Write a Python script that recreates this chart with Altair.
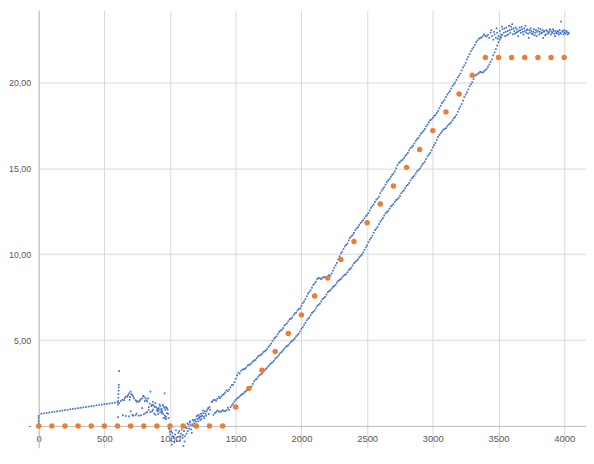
import altair as alt
import pandas as pd

# ---------------- data ----------------
# blue series, segment 1: initial straight stretch (0 -> 600)
ramp_x = [0, 0, 0, 0, 0, 20, 40, 60, 80, 100, 120, 140, 160, 180, 200, 220, 240, 260, 280,
          300, 320, 340, 360, 380, 400, 420, 440, 460, 480, 500, 520, 540, 560, 580, 600]
ramp_y = [0.00, 0.15, 0.30, 0.45, 0.58, 0.71, 0.74, 0.76, 0.78, 0.81, 0.83, 0.85, 0.87, 0.90,
          0.92, 0.94, 0.97, 0.99, 1.01, 1.04, 1.06, 1.08, 1.10, 1.13, 1.15, 1.17, 1.20, 1.22,
          1.24, 1.27, 1.29, 1.31, 1.33, 1.36, 1.38]

# segment 2: spike and scattered cloud (600 -> 1000)
cloud_x = [603, 605, 606, 607, 608, 609, 610, 612, 604, 612,
           625, 637, 650, 663, 675, 688, 692, 700, 705, 713, 725, 738, 750, 763, 775, 788,
           801, 813, 820, 826, 838, 845, 851, 863, 870, 876, 889, 895, 903, 914, 925, 939,
           945, 951, 959, 964, 970, 976, 982, 989,
           640, 663, 688, 700, 713, 738, 763, 788, 800, 813, 838, 850, 863, 880, 889, 900,
           914, 925, 939, 951, 960, 970, 864, 939, 964, 976,
           655, 680, 695, 720, 745, 770, 795, 808, 833, 858, 882, 908, 920, 933, 948, 957,
           968, 985, 720, 745, 780, 825, 870, 910, 935]
cloud_y = [1.25, 1.45, 1.65, 1.85, 2.05, 2.25, 2.40, 3.19, 0.52, 1.33,
           1.45, 1.52, 1.50, 1.71, 1.70, 1.90, 1.52, 2.00, 1.85, 1.80, 1.61, 1.50, 1.45, 1.42,
           1.55, 1.60, 1.71, 1.61, 1.50, 1.42, 1.10, 1.30, 2.00, 1.23, 1.40, 1.20, 1.33, 1.10,
           1.00, 1.04, 1.15, 0.85, 1.23, 1.13, 1.90, 0.94, 1.10, 0.75, 0.95, 0.46,
           0.62, 0.58, 0.56, 0.85, 0.65, 0.62, 0.60, 1.04, 0.68, 0.75, 0.94, 0.80, 0.85, 0.72,
           0.65, 0.90, 0.94, 0.80, 0.75, 0.46, 0.60, 0.40, 1.23, 0.85, 0.46, 1.04,
           1.62, 1.80, 1.68, 1.72, 1.40, 1.48, 1.75, 1.45, 1.60, 1.15, 1.10, 0.85, 1.25, 0.95,
           0.70, 1.05, 0.55, 0.70, 0.60, 0.72, 0.62, 0.80, 0.95, 0.70, 1.00]

# segment 3: dip below zero (1000 -> 1320)
dip_x = [989, 995, 1002, 1008, 1014, 1020, 1027, 1039, 1052, 1064, 1070, 1080, 1089, 1095,
         1102, 1110, 1114, 1120, 1127, 1135, 1140, 1150, 1152, 1160, 1165, 1170, 1177, 1180,
         1190, 1195, 1202, 1210, 1215, 1220, 1225, 1230, 1235, 1240, 1245, 1253, 1260, 1265,
         1275, 1278, 1290, 1295, 1305, 1316,
         998, 1005, 1017, 1033, 1045, 1058, 1075, 1085, 1098, 1106, 1125, 1132, 1145, 1157,
         1172, 1185, 1198, 1207, 1218, 1228, 1238, 1250, 1258, 1270, 1285, 1300]
dip_y = [-0.12, -0.20, -0.50, -0.30, -1.08, -0.60, -0.70, -0.50, -0.88, -0.40, -0.30, -0.60,
         -0.21, -0.70, -1.17, -0.90, -0.60, -0.10, -0.12, -0.30, 0.08, 0.20, 0.27, -0.20,
         -0.40, 0.10, 0.00, 0.30, 0.37, 0.00, 0.56, 0.60, 0.27, 0.45, 0.50, 0.35, 0.70, 0.56,
         0.60, 0.75, 0.45, 0.85, 0.60, 0.85, 1.04, 0.70, 0.95, 1.42,
         -0.35, -0.85, -0.40, -0.95, -0.25, -0.65, -0.85, -0.45, -0.55, -0.30, -0.45, 0.15,
         -0.15, 0.05, 0.35, 0.15, 0.25, 0.40, 0.65, 0.55, 0.40, 0.90, 0.55, 0.70, 0.95, 1.10]

# segment 4: upper (left) branch
up_x = [1320, 1340, 1360, 1380, 1400, 1420, 1440, 1460, 1480, 1500, 1520, 1540, 1560, 1580,
        1600, 1620, 1640, 1660, 1680, 1700, 1720, 1740, 1760, 1780, 1800, 1820, 1840, 1860,
        1880, 1900, 1920, 1940, 1960, 1980, 2000, 2020, 2040, 2060, 2080, 2100, 2120, 2140,
        2160, 2180, 2200, 2220, 2240, 2260, 2280, 2300, 2320, 2340, 2360, 2380, 2400, 2420,
        2440, 2460, 2480, 2500, 2520, 2540, 2560, 2580, 2600, 2620, 2640, 2660, 2680, 2700,
        2720, 2740, 2760, 2780, 2800, 2820, 2840, 2860, 2880, 2900, 2920, 2940, 2960, 2980,
        3000, 3020, 3040, 3060, 3080, 3100, 3120, 3140, 3160, 3180, 3200, 3220, 3240, 3260,
        3280, 3300, 3320, 3340, 3360, 3380, 3400, 3420]
up_y = [1.40, 1.52, 1.58, 1.62, 1.80, 1.95, 2.02, 2.25, 2.40, 2.75, 3.10, 3.20, 3.30, 3.40,
        3.55, 3.65, 3.80, 3.95, 4.10, 4.20, 4.35, 4.50, 4.70, 4.95, 5.15, 5.35, 5.55, 5.70,
        5.90, 6.10, 6.25, 6.45, 6.60, 6.80, 7.00, 7.25, 7.55, 7.80, 8.05, 8.30, 8.55, 8.60,
        8.62, 8.65, 8.70, 8.75, 9.05, 9.35, 9.70, 10.05, 10.30, 10.55, 10.80, 11.05, 11.25,
        11.50, 11.70, 11.90, 12.10, 12.30, 12.55, 12.80, 13.05, 13.25, 13.55, 13.80, 14.05,
        14.30, 14.50, 14.70, 15.00, 15.30, 15.45, 15.60, 15.80, 16.05, 16.25, 16.45, 16.70,
        16.90, 17.10, 17.30, 17.55, 17.80, 17.95, 18.10, 18.35, 18.65, 18.90, 19.15, 19.40,
        19.65, 19.90, 20.15, 20.40, 20.70, 21.00, 21.35, 21.65, 21.95, 22.20, 22.45, 22.60,
        22.70, 22.72, 22.78]
up2_x = [1330, 1350, 1370, 1390, 1410, 1430, 1450, 1470, 1490, 1510, 1530, 1550, 1570, 1590,
         1610, 1630, 1650, 1670, 1690, 1710, 1730, 1750, 1770, 1790, 1810, 1830, 1850, 1870,
         1890, 1910, 1930, 1950, 1970, 1990, 2010, 2030, 2050, 2070, 2090, 2110, 2130, 2150,
         2170, 2190, 2210, 2230, 2250, 2270, 2290, 2310, 2330, 2350, 2370, 2390, 2410, 2430,
         2450, 2470, 2490, 2510, 2530, 2550, 2570, 2590, 2610, 2630, 2650, 2670, 2690, 2710,
         2730, 2750, 2770, 2790, 2810, 2830, 2850, 2870, 2890, 2910, 2930, 2950, 2970, 2990,
         3010, 3030, 3050, 3070, 3090, 3110, 3130, 3150, 3170, 3190, 3210, 3230, 3250, 3270,
         3290, 3310, 3330, 3350, 3370, 3390, 3410]
up2_y = [1.50, 1.48, 1.70, 1.72, 1.85, 2.08, 2.12, 2.38, 2.55, 2.95, 3.05, 3.28, 3.32, 3.52,
         3.58, 3.75, 3.85, 4.05, 4.12, 4.30, 4.40, 4.62, 4.80, 5.08, 5.22, 5.48, 5.60, 5.85,
         5.98, 6.22, 6.32, 6.55, 6.72, 6.85, 7.15, 7.38, 7.70, 7.90, 8.22, 8.40, 8.62, 8.55,
         8.68, 8.62, 8.78, 8.88, 9.22, 9.50, 9.88, 10.15, 10.45, 10.62, 10.95, 11.12, 11.40,
         11.58, 11.82, 11.98, 12.22, 12.40, 12.70, 12.90, 13.18, 13.35, 13.70, 13.90, 14.20,
         14.38, 14.62, 14.82, 15.18, 15.38, 15.50, 15.72, 15.90, 16.18, 16.32, 16.60, 16.78,
         17.02, 17.18, 17.45, 17.68, 17.85, 18.05, 18.22, 18.50, 18.80, 19.00, 19.30, 19.50,
         19.80, 20.00, 20.30, 20.52, 20.88, 21.15, 21.50, 21.82, 22.05, 22.35, 22.55, 22.62,
         22.80, 22.68]

# segment 5: lower (right) branch
low_x = [1330, 1350, 1370, 1390, 1410, 1430, 1450, 1470, 1490, 1510, 1530, 1550, 1570, 1590,
         1610, 1630, 1650, 1670, 1690, 1710, 1730, 1750, 1770, 1790, 1810, 1830, 1850, 1870,
         1890, 1910, 1930, 1950, 1970, 1990, 2010, 2030, 2050, 2070, 2090, 2110, 2130, 2150,
         2170, 2190, 2210, 2230, 2250, 2270, 2290, 2310, 2330, 2350, 2370, 2390, 2410, 2430,
         2450, 2470, 2490, 2510, 2530, 2550, 2570, 2590, 2610, 2630, 2650, 2670, 2690, 2710,
         2730, 2750, 2770, 2790, 2810, 2830, 2850, 2870, 2890, 2910, 2930, 2950, 2970, 2990,
         3010, 3030, 3050, 3070, 3090, 3110, 3130, 3150, 3170, 3190, 3210, 3230, 3250, 3270,
         3290, 3310, 3330, 3350, 3370, 3390, 3410, 3430, 3450, 3470, 3490, 3510, 3530]
low_y = [0.65, 0.80, 0.85, 0.85, 0.88, 0.92, 0.94, 1.20, 1.42, 1.60, 1.72, 1.85, 1.98, 2.08,
         2.18, 2.45, 2.70, 2.85, 3.00, 3.15, 3.32, 3.50, 3.65, 3.80, 3.98, 4.15, 4.32, 4.50,
         4.65, 4.80, 4.95, 5.10, 5.30, 5.50, 5.75, 6.00, 6.25, 6.45, 6.65, 6.85, 7.05, 7.25,
         7.45, 7.65, 7.85, 8.00, 8.15, 8.35, 8.50, 8.65, 8.80, 8.95, 9.15, 9.35, 9.55, 9.70,
         9.90, 10.10, 10.40, 10.70, 10.95, 11.25, 11.50, 11.75, 12.00, 12.25, 12.45, 12.65,
         12.85, 13.05, 13.20, 13.40, 13.65, 13.85, 14.05, 14.30, 14.50, 14.70, 14.90, 15.10,
         15.30, 15.55, 15.80, 16.05, 16.35, 16.65, 16.95, 17.15, 17.30, 17.45, 17.60, 17.80,
         18.00, 18.30, 18.60, 18.95, 19.30, 19.60, 19.90, 20.20, 20.45, 20.55, 20.60, 20.65,
         20.80, 21.05, 21.35, 21.75, 22.15, 22.50, 22.75]
low2_x = [1340, 1360, 1380, 1400, 1420, 1440, 1460, 1480, 1500, 1520, 1540, 1560, 1580, 1600,
          1620, 1640, 1660, 1680, 1700, 1720, 1740, 1760, 1780, 1800, 1820, 1840, 1860, 1880,
          1900, 1920, 1940, 1960, 1980, 2000, 2020, 2040, 2060, 2080, 2100, 2120, 2140, 2160,
          2180, 2200, 2220, 2240, 2260, 2280, 2300, 2320, 2340, 2360, 2380, 2400, 2420, 2440,
          2460, 2480, 2500, 2520, 2540, 2560, 2580, 2600, 2620, 2640, 2660, 2680, 2700, 2720,
          2740, 2760, 2780, 2800, 2820, 2840, 2860, 2880, 2900, 2920, 2940, 2960, 2980, 3000,
          3020, 3040, 3060, 3080, 3100, 3120, 3140, 3160, 3180, 3200, 3220, 3240, 3260, 3280,
          3300, 3320, 3340, 3360, 3380, 3400, 3420, 3440, 3460, 3480, 3500, 3520]
low2_y = [0.75, 0.90, 0.82, 0.92, 0.86, 1.05, 1.10, 1.30, 1.52, 1.65, 1.80, 1.90, 2.05, 2.12,
          2.30, 2.60, 2.75, 2.95, 3.05, 3.25, 3.40, 3.58, 3.70, 3.92, 4.05, 4.25, 4.40, 4.60,
          4.70, 4.90, 5.02, 5.22, 5.38, 5.65, 5.88, 6.15, 6.32, 6.58, 6.72, 6.98, 7.12, 7.38,
          7.52, 7.78, 7.90, 8.10, 8.22, 8.45, 8.55, 8.75, 8.85, 9.08, 9.22, 9.48, 9.62, 9.82,
          9.98, 10.25, 10.52, 10.85, 11.08, 11.40, 11.60, 11.90, 12.10, 12.38, 12.52, 12.78,
          12.92, 13.15, 13.28, 13.55, 13.72, 13.98, 14.15, 14.42, 14.58, 14.82, 14.98, 15.22,
          15.40, 15.70, 15.90, 16.22, 16.48, 16.82, 17.05, 17.25, 17.35, 17.55, 17.68, 17.92,
          18.12, 18.48, 18.75, 19.15, 19.42, 19.78, 20.02, 20.38, 20.48, 20.62, 20.58, 20.72,
          20.92, 21.20, 21.58, 21.95, 22.35, 22.62]

# segment 6: plateau
top_x = [3430, 3440, 3450, 3460, 3470, 3480, 3490, 3500, 3510, 3520, 3530, 3540, 3550, 3560,
         3570, 3575, 3580, 3590, 3600, 3605, 3610, 3620, 3630, 3635, 3640, 3650, 3655, 3660,
         3670, 3680, 3690, 3700, 3705, 3710, 3720, 3730, 3740, 3750, 3760, 3770, 3780, 3790,
         3800, 3810, 3820, 3830, 3840, 3850, 3860, 3870, 3880, 3890, 3900, 3910, 3920, 3930,
         3940, 3950, 3960, 3970, 3977, 3985, 3995, 4005, 4015, 4025, 4035,
         3445, 3465, 3485, 3495, 3515, 3525, 3545, 3555, 3565, 3585, 3595, 3615, 3625, 3645,
         3665, 3675, 3685, 3695, 3715, 3725, 3735, 3745, 3755, 3765, 3775, 3785, 3795, 3805,
         3815, 3825, 3835, 3845, 3855, 3865, 3875, 3885, 3895, 3905, 3915, 3925, 3935, 3945,
         3955, 3965, 3975, 3990, 4000, 4010, 4020, 4030]
top_y = [22.60, 22.90, 22.70, 22.50, 22.80, 22.60, 22.90, 22.70, 23.00, 22.80, 23.10, 22.90,
         22.70, 23.20, 23.00, 22.80, 23.30, 22.90, 23.10, 23.40, 22.80, 23.00, 23.20, 22.90,
         23.10, 22.70, 23.00, 23.20, 22.90, 23.10, 22.80, 23.00, 23.30, 22.90, 23.10, 22.60,
         22.90, 23.00, 22.80, 23.10, 22.90, 22.70, 23.00, 22.80, 23.10, 22.90, 22.60, 23.00,
         22.80, 23.00, 22.90, 23.10, 22.80, 22.90, 23.00, 22.70, 22.90, 23.00, 22.80, 22.90,
         23.55, 23.00, 22.80, 22.90, 23.00, 22.80, 22.85,
         23.05, 22.95, 23.15, 22.55, 22.65, 23.25, 23.15, 22.95, 22.75, 23.05, 23.25, 23.15,
         22.85, 22.95, 23.05, 23.25, 22.95, 23.15, 23.05, 22.85, 23.05, 23.15, 22.85, 22.95,
         22.75, 23.05, 22.95, 23.15, 22.95, 22.85, 23.05, 22.95, 22.75, 23.05, 22.85, 22.95,
         23.05, 22.95, 23.10, 22.85, 23.00, 22.85, 22.95, 23.05, 22.85, 22.95, 23.05, 22.85,
         22.95, 22.90]

# orange series
orange_x = [0, 100, 200, 300, 400, 500, 600, 700, 800, 900, 1000, 1100, 1200, 1300, 1400,
            1500, 1600, 1700, 1800, 1900, 2000, 2100, 2200, 2300, 2400, 2500, 2600, 2700,
            2800, 2900, 3000, 3100, 3200, 3300, 3400, 3500, 3600, 3700, 3800, 3900, 4000]
orange_y = [0, 0, 0, 0, 0, 0, 0, 0, 0, 0, 0, 0, 0, 0, 0,
            1.10, 2.19, 3.25, 4.34, 5.38, 6.47, 7.57, 8.61, 9.70, 10.74, 11.83, 12.93, 13.97,
            15.06, 16.10, 17.20, 18.29, 19.33, 20.42, 21.46, 21.46, 21.46, 21.46, 21.46,
            21.46, 21.46]

x_ticks = [0, 500, 1000, 1500, 2000, 2500, 3000, 3500, 4000]
y_ticks = [0, 5, 10, 15, 20]

# ---------------- chart ----------------
blue = pd.DataFrame({
    "x": ramp_x + cloud_x + dip_x + up_x + up2_x + low_x + low2_x + top_x,
    "y": ramp_y + cloud_y + dip_y + up_y + up2_y + low_y + low2_y + top_y,
})
orange = pd.DataFrame({"x": orange_x, "y": orange_y})

FONT = "Liberation Sans"
xscale = alt.Scale(domain=[0, 4166], nice=False, zero=False)
yscale = alt.Scale(domain=[-1.268, 24.207], nice=False, zero=False)

xaxis = alt.Axis(values=x_ticks, title=None, grid=True, gridColor="#d9d9d9", gridWidth=1,
                 ticks=False, domain=True, domainColor="#bfbfbf", domainWidth=1,
                 offset=-22, labelPadding=8, labelFont=FONT, labelFontSize=9.5,
                 labelColor="#595959", labelFlush=False, labelOverlap=False, format="d")
yaxis = alt.Axis(values=y_ticks, title=None, grid=True, gridColor="#d9d9d9", gridWidth=1,
                 ticks=False, domain=True, domainColor="#bfbfbf", domainWidth=1,
                 labelPadding=8, labelFont=FONT, labelFontSize=9, labelColor="#595959",
                 labelFlush=False, labelOverlap=False,
                 labelExpr="datum.value == 0 ? '-\u00a0\u00a0' : replace(format(datum.value, '.2f'), '.', ',')")

pts_blue = alt.Chart(blue).mark_square(size=3, color="#4472C4", opacity=1).encode(
    x=alt.X("x:Q", scale=xscale, axis=xaxis),
    y=alt.Y("y:Q", scale=yscale, axis=yaxis),
)
pts_orange = alt.Chart(orange).mark_circle(size=30, color="#ED7D31", opacity=1).encode(
    x=alt.X("x:Q", scale=xscale, axis=xaxis),
    y=alt.Y("y:Q", scale=yscale, axis=yaxis),
)

chart = alt.layer(pts_blue, pts_orange).properties(
    width=553, height=442,
    autosize=alt.AutoSizeParams(type="none"),
    padding={"left": 31, "top": 0, "right": 0, "bottom": 0},
    background="white",
).configure_view(strokeWidth=0)

chart.save("out.html", embed_options={"renderer": "svg", "actions": False})
